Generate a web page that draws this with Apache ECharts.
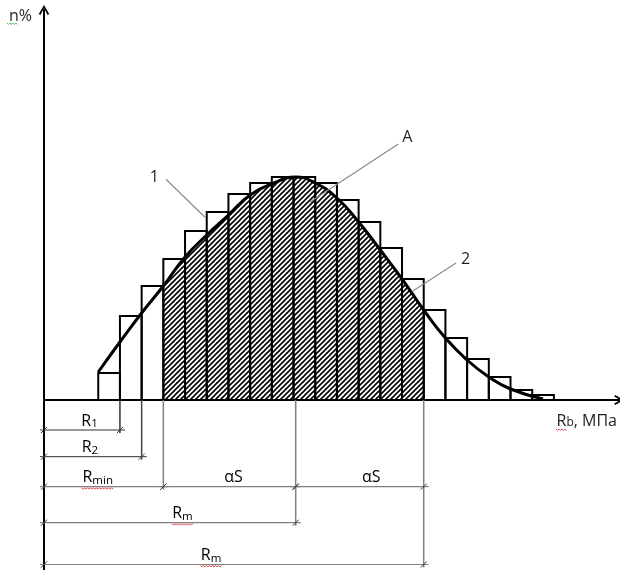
<!DOCTYPE html>
<html>
<head>
<meta charset="utf-8">
<script src="https://cdn.jsdelivr.net/npm/echarts@6/dist/echarts.min.js"></script>
<style>
  html, body { margin: 0; padding: 0; background: #fff; }
  #chart { width: 620px; height: 570px; }
</style>
</head>
<body>
<div id="chart"></div>
<script>
// ---- data ---------------------------------------------------------------
// Histogram: strength classes of unit width on the Rb axis, frequency in n%
const classStart = 2.5;
const classWidth = 1;
const frequency = [2.7, 8.4, 11.4, 14.1, 16.9, 18.8, 20.6, 21.7, 22.3, 22.3, 21.7,
                   20.0, 17.8, 15.2, 12.1, 9.0, 6.2, 4.1, 2.3, 1.0, 0.5];

// Distribution curve (1) fitted to the histogram
const curveX = [2.5, 3.5, 4.5, 5.5, 6.5, 7.5, 8.5, 9.5, 10.5, 11.6, 12.5,
                13.5, 14.5, 15.5, 16.5, 17.5, 18.5, 19.5, 20.5, 21.5, 23.0];
const curveY = [2.8, 5.8, 8.7, 11.4, 14.3, 16.5, 18.5, 20.5, 21.6, 22.3, 21.7,
                20.2, 17.8, 15.0, 12.1, 9.0, 6.2, 4.0, 2.3, 1.1, 0.1];

// Characteristic strengths on the Rb axis
const R1 = 3.5;
const R2 = 4.5;
const Rmin = 5.5;      // lower bound of the shaded zone A
const Rm = 11.6;       // mean strength
const Rupper = 17.5;   // upper bound of the shaded zone A

// ---- layout -------------------------------------------------------------
const X_MAX = 26.5, Y_MIN = -17, Y_MAX = 39;
const GRID = { left: 44, right: 1, top: 10, bottom: 0 };
const plotW = 620 - GRID.left - GRID.right;
const xPx = v => GRID.left + v * plotW / X_MAX;

// dimension rows below the axis (in n% units, negative = below zero)
const rowR1 = -3.0, rowR2 = -5.67, rowS = -8.67, rowRm = -12.27, rowRm2 = -16.45;

const INK = '#1f1f1f';
const DIM_GREY = '#808080';
const FONT = '"Open Sans", "Liberation Sans", sans-serif';

const rich = {
  r: { fontSize: 16, fontFamily: FONT, color: INK, lineHeight: 18, verticalAlign: 'bottom' },
  s: { fontSize: 11.5, fontFamily: FONT, color: INK, lineHeight: 18, verticalAlign: 'bottom', padding: [0, 0, -1, 0] }
};

// dimension lines: from, to, row, label and where along the line it sits
const dims = [
  { from: 0,    to: R1,     row: rowR1,  text: '{r|R}{s|1}',   at: 0.60, color: '#333', wavy: false },
  { from: 0,    to: R2,     row: rowR2,  text: '{r|R}{s|2}',   at: 0.47, color: '#555', wavy: false },
  { from: 0,    to: Rmin,   row: rowS,   text: '{r|R}{s|min}', at: 0.45, color: DIM_GREY, wavy: true, w: 32 },
  { from: Rmin, to: Rm,     row: rowS,   text: '{r|αS}',       at: 0.53, color: DIM_GREY, wavy: false },
  { from: Rm,   to: Rupper, row: rowS,   text: '{r|αS}',       at: 0.59, color: DIM_GREY, wavy: false },
  { from: 0,    to: Rm,     row: rowRm,  text: '{r|R}{s|m}',   at: 0.55, color: DIM_GREY, wavy: true, w: 21 },
  { from: 0,    to: Rupper, row: rowRm2, text: '{r|R}{s|m}',   at: 0.44, color: DIM_GREY, wavy: true, w: 21 }
];
// vertical extension lines down to their dimension rows
const extX = [R1, R2, Rmin, Rm, Rupper];
const extRow = [rowR1, rowR2, rowS, rowRm, rowRm2];
const extColor = ['#333', '#444', DIM_GREY, DIM_GREY, DIM_GREY];

// leader labels: 1 - distribution curve, A - shaded zone, 2 - histogram
const leaderText = ['1', 'A', '2'];
const leaderFrom = [[5.62, 22.07], [16.33, 25.6], [18.99, 13.7]];
const leaderTo = [[7.42, 18.27], [12.26, 19.8], [17.0, 10.9]];
const leaderLabel = [
  { dx: -7, dy: -2, align: 'right', va: 'middle' },
  { dx: 4, dy: 1, align: 'left', va: 'bottom' },
  { dx: 5, dy: -4, align: 'left', va: 'middle' }
];

// ---- helpers ------------------------------------------------------------
function hatchPattern() {
  const c = document.createElement('canvas');
  c.width = 5; c.height = 5;
  const g = c.getContext('2d');
  g.strokeStyle = '#000';
  g.lineWidth = 1.6;
  g.beginPath();
  g.moveTo(-1, 6); g.lineTo(6, -1);
  g.moveTo(-1, 1); g.lineTo(1, -1);
  g.moveTo(4, 6); g.lineTo(6, 4);
  g.stroke();
  return c;
}

function wavy(x0, x1, y, color) {
  const pts = [];
  let up = true;
  for (let x = x0; x <= x1; x += 1.5) { pts.push([x, up ? y : y + 1.5]); up = !up; }
  return { type: 'polyline', shape: { points: pts }, style: { stroke: color, fill: null, lineWidth: 0.9 } };
}

const chevron = 'path://M0,8.6 L5,0 L10,8.6 L8.5,9.6 L5,3.2 L1.5,9.6 Z';

// ---- renderers ----------------------------------------------------------
function renderBar(params, api) {
  const x0 = api.value(0), h = api.value(1);
  const p0 = api.coord([x0, h]);
  const p1 = api.coord([x0 + classWidth, 0]);
  return {
    type: 'rect',
    shape: { x: p0[0], y: p0[1], width: p1[0] - p0[0], height: p1[1] - p0[1] },
    style: { fill: null, stroke: '#000', lineWidth: 2 }
  };
}

function renderDim(params, api) {
  const d = dims[params.dataIndex];
  const a = api.coord([api.value(0), api.value(2)]);
  const b = api.coord([api.value(1), api.value(2)]);
  const children = [
    { type: 'line', shape: { x1: a[0] - 4, y1: a[1], x2: b[0] + 5, y2: b[1] },
      style: { stroke: d.color, lineWidth: 1.2 } }
  ];
  [a, b].forEach(p => children.push({
    type: 'line', shape: { x1: p[0] - 3, y1: p[1] + 3, x2: p[0] + 3, y2: p[1] - 3 },
    style: { stroke: '#333', lineWidth: 1 }
  }));
  const lx = a[0] + (b[0] - a[0]) * d.at;
  children.push({
    type: 'text',
    style: { text: d.text, rich: rich, x: lx, y: a[1] - 1, align: 'center', verticalAlign: 'bottom' }
  });
  if (d.wavy) children.push(wavy(lx - d.w / 2, lx + d.w / 2, a[1] + 1, '#e03a3a'));
  return { type: 'group', children: children };
}

function renderExt(params, api) {
  const top = api.coord([api.value(0), 0]);
  const bot = api.coord([api.value(0), api.value(1)]);
  return {
    type: 'line',
    shape: { x1: top[0], y1: top[1], x2: bot[0], y2: bot[1] + 3 },
    style: { stroke: extColor[params.dataIndex], lineWidth: 1.5 }
  };
}

function renderLeader(params, api) {
  const s = api.coord([api.value(0), api.value(1)]);
  const e = api.coord([api.value(2), api.value(3)]);
  const l = leaderLabel[params.dataIndex];
  return {
    type: 'group',
    children: [
      { type: 'line', shape: { x1: s[0], y1: s[1], x2: e[0], y2: e[1] },
        style: { stroke: '#8c8c8c', lineWidth: 1.2 } },
      { type: 'text', style: { text: leaderText[params.dataIndex], x: s[0] + l.dx, y: s[1] + l.dy,
          align: l.align, verticalAlign: l.va, fill: INK, fontSize: 16, fontFamily: FONT } }
    ]
  };
}

// ---- chart --------------------------------------------------------------
const chart = echarts.init(document.getElementById('chart'), null, { renderer: 'canvas' });
const curveData = curveX.map((x, i) => [x, curveY[i]]);

const hiddenAxis = { show: false, axisLine: { show: false }, axisTick: { show: false },
                     axisLabel: { show: false }, splitLine: { show: false } };

chart.setOption({
  animation: false,
  backgroundColor: '#fff',
  grid: [
    { left: GRID.left, right: GRID.right, top: GRID.top, bottom: GRID.bottom },
    { left: xPx(Rmin), width: xPx(Rupper) - xPx(Rmin), top: GRID.top, bottom: GRID.bottom }
  ],
  xAxis: [
    {
      type: 'value', gridIndex: 0, min: 0, max: X_MAX,
      axisLine: { show: true, onZero: true, symbol: ['none', chevron], symbolSize: [10, 11],
                  lineStyle: { color: '#000', width: 2 } },
      axisTick: { show: false }, axisLabel: { show: false }, splitLine: { show: false },
      name: '{r|R}{s|b}{r|, МПа}', nameLocation: 'end', nameGap: -1,
      nameTextStyle: { fontSize: 16, fontFamily: FONT, color: INK,
                       rich: { r: { fontSize: 16, fontFamily: FONT, color: INK, lineHeight: 18, verticalAlign: 'bottom' },
                               s: { fontSize: 12, fontFamily: FONT, color: INK, lineHeight: 18, verticalAlign: 'bottom' } },
                       align: 'right', verticalAlign: 'top', padding: [11, 1, 0, 0] }
    },
    Object.assign({ type: 'value', gridIndex: 1, min: Rmin, max: Rupper }, hiddenAxis)
  ],
  yAxis: [
    {
      type: 'value', gridIndex: 0, min: Y_MIN, max: Y_MAX,
      axisLine: { show: true, onZero: true, symbol: ['none', chevron], symbolSize: [11, 10],
                  lineStyle: { color: '#000', width: 2 } },
      axisTick: { show: false }, axisLabel: { show: false }, splitLine: { show: false },
      name: 'n%', nameLocation: 'end', nameGap: 2,
      nameTextStyle: { fontSize: 16, fontFamily: FONT, color: INK,
                       align: 'right', verticalAlign: 'top', padding: [0, 12, 0, 0] }
    },
    Object.assign({ type: 'value', gridIndex: 1, min: Y_MIN, max: Y_MAX }, hiddenAxis)
  ],
  series: [
    { // shaded zone A under the curve between Rmin and Rupper
      type: 'line', xAxisIndex: 1, yAxisIndex: 1, data: curveData, smooth: true,
      symbol: 'none', lineStyle: { width: 0.01, opacity: 0 },
      areaStyle: { color: { image: hatchPattern(), repeat: 'repeat' }, opacity: 1 },
      z: 1, silent: true
    },
    { // histogram (2)
      type: 'custom', xAxisIndex: 0, yAxisIndex: 0,
      data: frequency.map((v, i) => [classStart + i * classWidth, v]),
      renderItem: renderBar, z: 2, silent: true
    },
    { // distribution curve (1)
      type: 'line', xAxisIndex: 0, yAxisIndex: 0, data: curveData, smooth: true,
      symbol: 'none', lineStyle: { color: '#000', width: 3 }, z: 3, silent: true
    },
    { // extension lines
      type: 'custom', xAxisIndex: 0, yAxisIndex: 0,
      data: extX.map((x, i) => [x, extRow[i]]),
      renderItem: renderExt, z: 4, silent: true
    },
    { // dimension lines
      type: 'custom', xAxisIndex: 0, yAxisIndex: 0,
      data: dims.map(d => [d.from, d.to, d.row]),
      renderItem: renderDim, z: 5, silent: true
    },
    { // leader labels
      type: 'custom', xAxisIndex: 0, yAxisIndex: 0,
      data: leaderFrom.map((p, i) => [p[0], p[1], leaderTo[i][0], leaderTo[i][1]]),
      renderItem: renderLeader, z: 6, silent: true
    }
  ]
});

// spell-check style underlines beneath the axis names
const xEnd = chart.convertToPixel({ xAxisIndex: 0, yAxisIndex: 0 }, [X_MAX, 0]);
const yEnd = chart.convertToPixel({ xAxisIndex: 0, yAxisIndex: 0 }, [0, Y_MAX]);
chart.setOption({
  graphic: [
    wavy(yEnd[0] - 37, yEnd[0] - 26, yEnd[1] + 13, '#4caf50'),
    wavy(xEnd[0] - 63, xEnd[0] - 52, xEnd[1] + 29, '#e03a3a')
  ]
});
</script>
</body>
</html>
